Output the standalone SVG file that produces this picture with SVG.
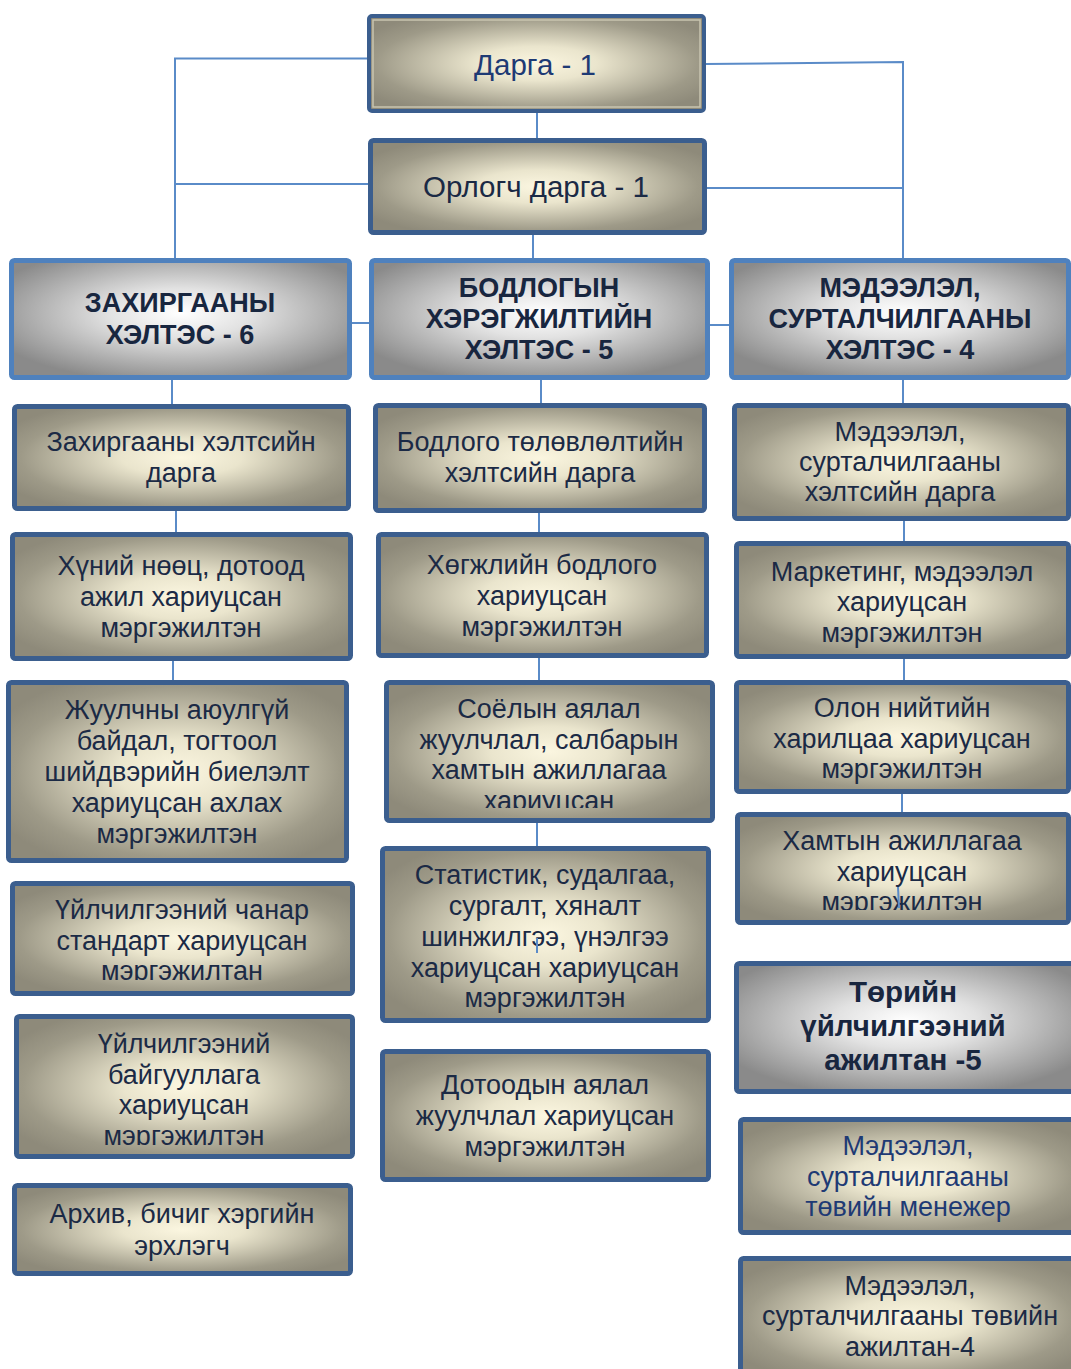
<svg xmlns="http://www.w3.org/2000/svg" width="1071" height="1369" viewBox="0 0 1071 1369">
<style>
.box{fill:url(#cream);stroke:#3B5E8E;stroke-width:5}
.hdr{fill:url(#grey);stroke:#4F81BD;stroke-width:5}
.hdr2{fill:url(#grey);stroke:#3B5E8E;stroke-width:5}
.t{font-family:"Liberation Sans",Arial,sans-serif;font-size:27px;fill:#1B2A45;text-anchor:middle}
.h{font-family:"Liberation Sans",Arial,sans-serif;font-size:27px;font-weight:bold;fill:#18263F;text-anchor:middle}
.top{font-family:"Liberation Sans",Arial,sans-serif;font-size:29.5px;text-anchor:middle}
.c{fill:none;stroke:#5A8BC8;stroke-width:2}
</style>
<defs>
<radialGradient id="cream" cx="0.5" cy="0.5" r="0.6">
<stop offset="0" stop-color="#FBF6E0"/>
<stop offset="0.3" stop-color="#EAE5CD"/>
<stop offset="0.8" stop-color="#9E9A88"/>
<stop offset="1" stop-color="#8E8A7A"/>
</radialGradient>
<radialGradient id="grey" cx="0.5" cy="0.45" r="0.6">
<stop offset="0" stop-color="#FFFFFF"/>
<stop offset="0.35" stop-color="#E2E2E2"/>
<stop offset="1" stop-color="#8A8A8A"/>
</radialGradient>
<clipPath id="clipL4"><rect x="10" y="881" width="345" height="99"/></clipPath>
<clipPath id="clipL5"><rect x="14" y="1014" width="341" height="131"/></clipPath>
<clipPath id="clipM3"><rect x="384" y="680" width="331" height="128"/></clipPath>
<clipPath id="clipR4"><rect x="735" y="812" width="336" height="98"/></clipPath>
</defs>

<g id="connectors">
<path class="c" d="M368 58.5H175V258"/>
<path class="c" d="M368 184H175"/>
<path class="c" d="M705 64L903 62V258"/>
<path class="c" d="M707 188H903"/>
<path class="c" d="M537 112V138"/>
<path class="c" d="M533 235V258"/>
<path class="c" d="M351 323H370"/>
<path class="c" d="M709 325H730"/>
<path class="c" d="M172 379V404"/>
<path class="c" d="M176 511V532"/>
<path class="c" d="M173 661V680"/>
<path class="c" d="M541 379V403"/>
<path class="c" d="M539 513V532"/>
<path class="c" d="M539 658V682"/>
<path class="c" d="M537 823V846"/>
<path class="c" d="M903 379V403"/>
<path class="c" d="M904 521V541"/>
<path class="c" d="M904 659V680"/>
<path class="c" d="M902 794V812"/>
</g>

<g id="n-darga">
<rect x="369" y="16" width="335" height="95" rx="3" fill="url(#cream)" stroke="#3B5E8E" stroke-width="4"/>
<rect x="373" y="20" width="327" height="87" fill="none" stroke="#C9C5B0" stroke-width="1.5"/>
<text class="top" x="535" y="75" fill="#1E3A74">Дарга - 1</text>
</g>
<g id="n-orlogch">
<rect x="370.5" y="140.5" width="334" height="92" rx="3" class="box"/>
<text class="top" x="536" y="197" fill="#1B2A45">Орлогч дарга - 1</text>
</g>

<g id="h-left">
<rect x="11.5" y="260.5" width="338" height="117" rx="3" class="hdr"/>
<text class="h"><tspan x="180" y="312">ЗАХИРГААНЫ</tspan><tspan x="180" y="344">ХЭЛТЭС - 6</tspan></text>
</g>
<g id="h-mid">
<rect x="371.5" y="260.5" width="336" height="117" rx="3" class="hdr"/>
<text class="h"><tspan x="539" y="297">БОДЛОГЫН</tspan><tspan x="539" y="328">ХЭРЭГЖИЛТИЙН</tspan><tspan x="539" y="359">ХЭЛТЭС - 5</tspan></text>
</g>
<g id="h-right">
<rect x="731.5" y="260.5" width="337" height="117" rx="3" class="hdr"/>
<text class="h"><tspan x="900" y="297">МЭДЭЭЛЭЛ,</tspan><tspan x="900" y="328">СУРТАЛЧИЛГААНЫ</tspan><tspan x="900" y="359">ХЭЛТЭС - 4</tspan></text>
</g>

<g id="l1">
<rect x="14.5" y="406.5" width="334" height="102" rx="3" class="box"/>
<text class="t"><tspan x="181" y="451">Захиргааны хэлтсийн</tspan><tspan x="181" y="482">дарга</tspan></text>
</g>
<g id="l2">
<rect x="12.5" y="534.5" width="338" height="124" rx="3" class="box"/>
<text class="t"><tspan x="181" y="575">Хүний нөөц, дотоод</tspan><tspan x="181" y="606">ажил хариуцсан</tspan><tspan x="181" y="637">мэргэжилтэн</tspan></text>
</g>
<g id="l3">
<rect x="8.5" y="682.5" width="338" height="178" rx="3" class="box"/>
<text class="t"><tspan x="177" y="719">Жуулчны аюулгүй</tspan><tspan x="177" y="750">байдал, тогтоол</tspan><tspan x="177" y="781">шийдвэрийн биелэлт</tspan><tspan x="177" y="812">хариуцсан ахлах</tspan><tspan x="177" y="843">мэргэжилтэн</tspan></text>
</g>
<g id="l4">
<rect x="12.5" y="883.5" width="340" height="110" rx="3" class="box"/>
<text class="t" clip-path="url(#clipL4)"><tspan x="182" y="919">Үйлчилгээний чанар</tspan><tspan x="182" y="950">стандарт хариуцсан</tspan><tspan x="182" y="980">мэргэжилтан</tspan></text>
</g>
<g id="l5">
<rect x="16.5" y="1016.5" width="336" height="140" rx="3" class="box"/>
<text class="t" clip-path="url(#clipL5)"><tspan x="184" y="1053">Үйлчилгээний</tspan><tspan x="184" y="1084">байгууллага</tspan><tspan x="184" y="1114">хариуцсан</tspan><tspan x="184" y="1145">мэргэжилтэн</tspan></text>
</g>
<g id="l6">
<rect x="14.5" y="1185.5" width="336" height="88" rx="3" class="box"/>
<text class="t"><tspan x="182" y="1223">Архив, бичиг хэргийн</tspan><tspan x="182" y="1255">эрхлэгч</tspan></text>
</g>

<g id="m1">
<rect x="375.5" y="405.5" width="329" height="105" rx="3" class="box"/>
<text class="t"><tspan x="540" y="451">Бодлого төлөвлөлтийн</tspan><tspan x="540" y="482">хэлтсийн дарга</tspan></text>
</g>
<g id="m2">
<rect x="378.5" y="534.5" width="328" height="121" rx="3" class="box"/>
<text class="t"><tspan x="542" y="574">Хөгжлийн бодлого</tspan><tspan x="542" y="605">хариуцсан</tspan><tspan x="542" y="636">мэргэжилтэн</tspan></text>
</g>
<g id="m3">
<rect x="386.5" y="682.5" width="326" height="138" rx="3" class="box"/>
<text class="t" clip-path="url(#clipM3)"><tspan x="549" y="718">Соёлын аялал</tspan><tspan x="549" y="749">жуулчлал, салбарын</tspan><tspan x="549" y="779">хамтын ажиллагаа</tspan><tspan x="549" y="810">хариуцсан</tspan></text>
</g>
<g id="m4">
<rect x="382.5" y="848.5" width="326" height="172" rx="3" class="box"/>
<text class="t"><tspan x="545" y="884">Статистик, судалгаа,</tspan><tspan x="545" y="915">сургалт, хяналт</tspan><tspan x="545" y="946">шинжилгээ, үнэлгээ</tspan><tspan x="545" y="977">хариуцсан хариуцсан</tspan><tspan x="545" y="1007">мэргэжилтэн</tspan></text>
</g>
<g id="m5">
<rect x="382.5" y="1051.5" width="326" height="128" rx="3" class="box"/>
<text class="t"><tspan x="545" y="1094">Дотоодын аялал</tspan><tspan x="545" y="1125">жуулчлал хариуцсан</tspan><tspan x="545" y="1156">мэргэжилтэн</tspan></text>
</g>

<g id="r1">
<rect x="734.5" y="405.5" width="334" height="113" rx="3" class="box"/>
<text class="t"><tspan x="900" y="441">Мэдээлэл,</tspan><tspan x="900" y="471">сурталчилгааны</tspan><tspan x="900" y="501">хэлтсийн дарга</tspan></text>
</g>
<g id="r2">
<rect x="736.5" y="543.5" width="332" height="113" rx="3" class="box"/>
<text class="t"><tspan x="902" y="581">Маркетинг, мэдээлэл</tspan><tspan x="902" y="611">хариуцсан</tspan><tspan x="902" y="642">мэргэжилтэн</tspan></text>
</g>
<g id="r3">
<rect x="736.5" y="682.5" width="332" height="109" rx="3" class="box"/>
<text class="t"><tspan x="902" y="717">Олон нийтийн</tspan><tspan x="902" y="748">харилцаа хариуцсан</tspan><tspan x="902" y="778">мэргэжилтэн</tspan></text>
</g>
<g id="r4">
<rect x="737.5" y="814.5" width="331" height="108" rx="3" class="box"/>
<text class="t" clip-path="url(#clipR4)"><tspan x="902" y="850">Хамтын ажиллагаа</tspan><tspan x="902" y="881">хариуцсан</tspan><tspan x="902" y="911">мэргэжилтэн</tspan></text>
</g>
<g id="r5">
<rect x="736.5" y="963.5" width="340" height="128" rx="3" class="hdr2"/>
<text class="h" style="font-size:29.5px"><tspan x="903" y="1002">Төрийн</tspan><tspan x="903" y="1036">үйлчилгээний</tspan><tspan x="903" y="1070">ажилтан -5</tspan></text>
</g>
<g id="r6">
<rect x="740.5" y="1119.5" width="338" height="113" rx="3" class="box"/>
<text class="t" style="fill:#1E3A74"><tspan x="908" y="1155">Мэдээлэл,</tspan><tspan x="908" y="1186">сурталчилгааны</tspan><tspan x="908" y="1216">төвийн менежер</tspan></text>
</g>
<g id="r7">
<rect x="740.5" y="1258.5" width="340" height="120" rx="3" class="box"/>
<text class="t"><tspan x="910" y="1295">Мэдээлэл,</tspan><tspan x="910" y="1325">сурталчилгааны төвийн</tspan><tspan x="910" y="1356">ажилтан-4</tspan></text>
</g>

<g id="stray">
<path class="c" d="M537 938V953"/>
<path class="c" d="M898 887L899 908"/>
</g>
</svg>
